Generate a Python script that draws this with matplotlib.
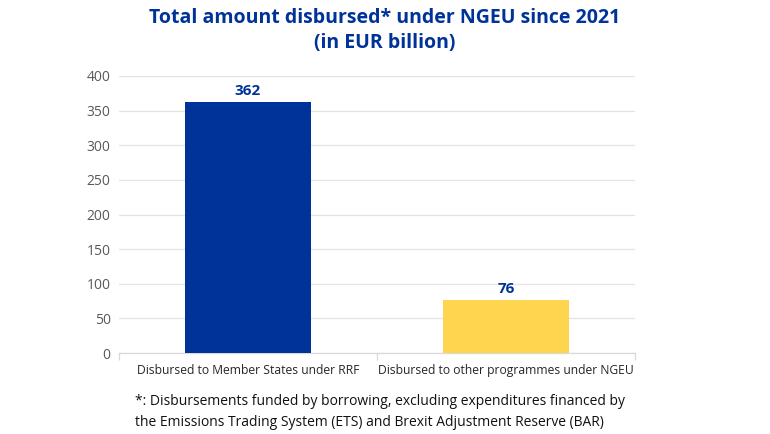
import matplotlib.pyplot as plt

# data
categories = ['Disbursed to Member States under RRF', 'Disbursed to other programmes under NGEU']
values = [362, 76]
bar_colors = ['#003399', '#FFD44F']
y_ticks = [0, 50, 100, 150, 200, 250, 300, 350, 400]

plt.rcParams['font.family'] = ['Open Sans', 'DejaVu Sans']

fig = plt.figure(figsize=(7.7, 4.34), dpi=100)
ax = fig.add_axes([0.1545, 0.1866, 0.6702, 0.6383])

x = list(range(len(categories)))
bars = ax.bar(x, values, width=0.49, color=bar_colors, zorder=3)

for xi, v in zip(x, values):
    ax.annotate(f'{v}', (xi, v), xytext=(0, 3), textcoords='offset points',
                ha='center', va='bottom', fontsize=11, fontweight='bold', color='#003399')

ax.set_xlim(-0.5, len(categories) - 0.5)
ax.set_ylim(0, 400)
ax.set_yticks(y_ticks)
ax.tick_params(axis='y', length=0, labelsize=10, labelcolor='#595959', pad=6)
ax.grid(True, axis='y', color='#e3e3e3', linewidth=0.9, zorder=0)

# category labels centred, separator ticks at the edges
ax.set_xticks(x)
ax.set_xticklabels(categories, fontsize=8.7, color='#262626')
ax.tick_params(axis='x', length=0, pad=8)
ax.set_xticks([-0.5, 0.5, 1.5], minor=True)
ax.tick_params(axis='x', which='minor', length=5, color='#d9d9d9', width=0.9)

for side in ['top', 'right', 'left']:
    ax.spines[side].set_visible(False)
ax.spines['bottom'].set_color('#d9d9d9')
ax.spines['bottom'].set_linewidth(0.9)

fig.text(0.5, 0.982, 'Total amount disbursed* under NGEU since 2021\n(in EUR billion)',
         ha='center', va='top', fontsize=14, fontweight='bold', color='#003399',
         linespacing=1.35)

fig.text(0.175, 0.093, '*: Disbursements funded by borrowing, excluding expenditures financed by\n'
         'the Emissions Trading System (ETS) and Brexit Adjustment Reserve (BAR)',
         ha='left', va='top', fontsize=10, color='#111111', linespacing=1.6)

fig.savefig('out.png', dpi=100, facecolor='white')
